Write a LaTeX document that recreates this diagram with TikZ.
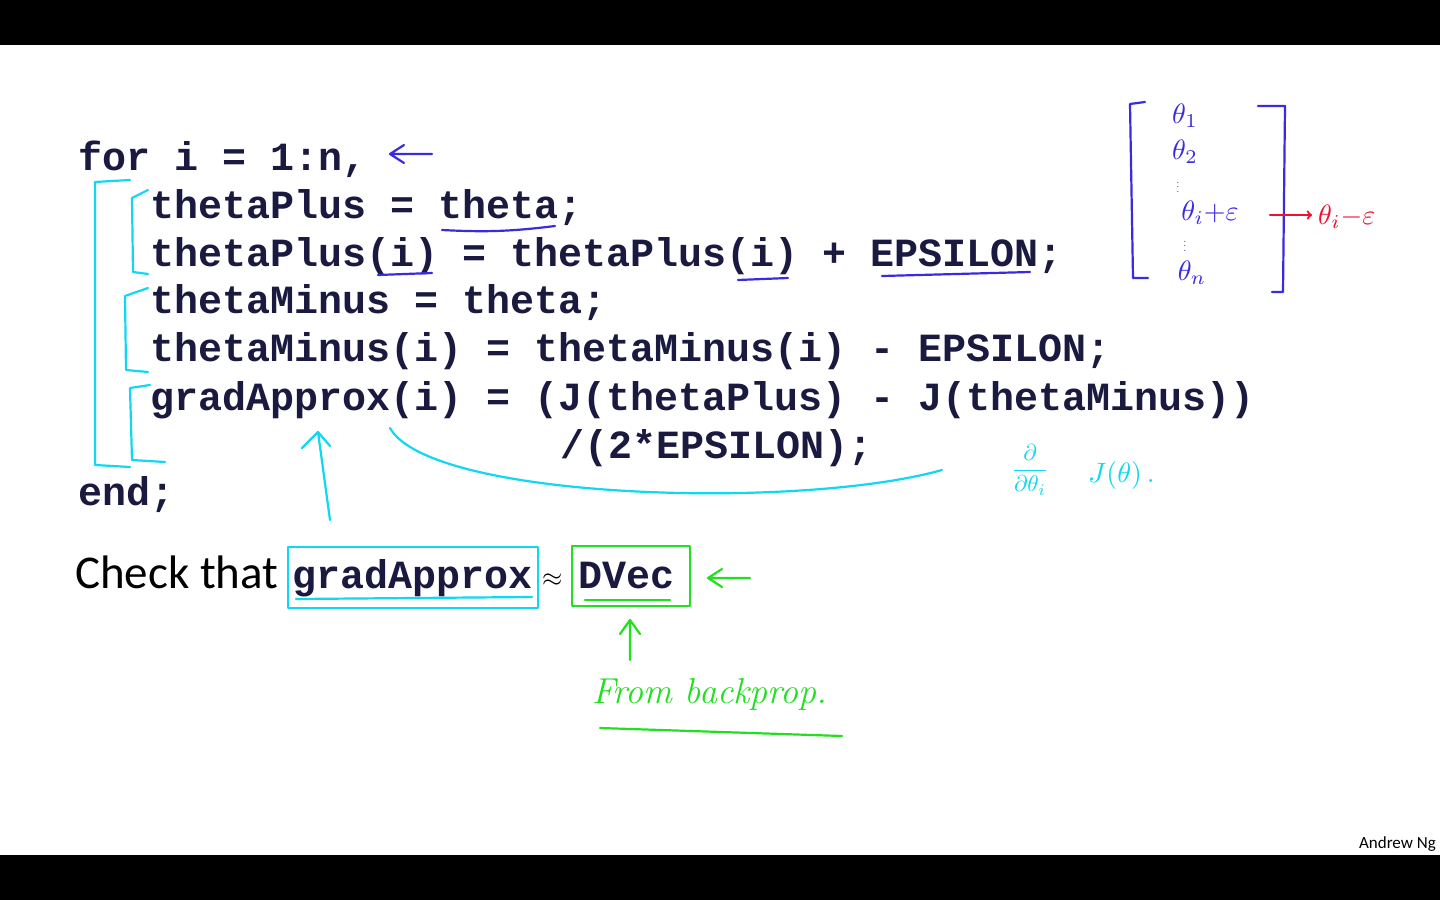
\documentclass[tikz,border=0pt]{standalone}
\usepackage{fontspec}
\setmonofont{Liberation Mono}
\setsansfont{Carlito}
\definecolor{codec}{HTML}{1A1A40}
\definecolor{cy}{HTML}{10D8F0}
\definecolor{pu}{HTML}{3A2AE0}
\definecolor{rd}{HTML}{F01030}
\definecolor{gr}{HTML}{20E020}
\begin{document}
\begin{tikzpicture}[x=1pt,y=-1pt,
  code/.style={anchor=base west,inner sep=0,text=codec,font=\fontsize{40}{48}\selectfont\ttfamily\bfseries},
  pen/.style={line width=2.2pt,line cap=round,line join=round},
  hand/.style={inner sep=0}]
\fill[white] (0,0) rectangle (1440,900);
\fill[black] (0,0) rectangle (1440,45);
\fill[black] (0,855) rectangle (1440,900);
% code
\node[code] (l1) at (78,170) {for i = 1:n,};
\node[code] (l2) at (150,218) {thetaPlus = theta;};
\node[code] (l3) at (150,266) {thetaPlus(i) = thetaPlus(i) + EPSILON;};
\node[code] (l4) at (150,313) {thetaMinus = theta;};
\node[code] (l5) at (150,361) {thetaMinus(i) = thetaMinus(i) - EPSILON;};
\node[code] (l6) at (150,410) {gradApprox(i) = (J(thetaPlus) - J(thetaMinus))};
\node[code] (l7) at (560,458) {/(2*EPSILON);};
\node[code] (l8) at (78,505) {end;};
\node[anchor=base west,inner sep=0,text=black,font=\fontsize{47}{50}\selectfont\sffamily] (chk) at (75,588) {Check that};
\node[code,anchor=base west] (ga) at (292,588) {gradApprox};
\node[anchor=base west,inner sep=0] (ap) at (542,586) {\scalebox{2.6}{$\approx$}};
\node[code] (dv) at (578,588) {DVec};
\node[anchor=base east,inner sep=0,font=\fontsize{17}{20}\selectfont\sffamily] (ang) at (1436,848) {Andrew Ng};
% purple arrow line 1
\draw[pen,pu] (432,154) -- (390,154) (404,145) -- (390,154) -- (404,163);
% underlines purple
\draw[pen,pu] (442,230) to[bend right=5] (555,226);
\draw[pen,pu] (378,275) -- (432,273);
\draw[pen,pu] (738,280) -- (788,278);
\draw[pen,pu] (882,276) -- (1030,272);
% cyan brackets
\draw[pen,cy] (130,180) -- (95,182) -- (95,465) -- (130,467);
\draw[pen,cy] (148,190) -- (132,198) -- (133,272) -- (148,274);
\draw[pen,cy] (148,288) -- (125,296) -- (126,370) -- (148,372);
\draw[pen,cy] (150,385) -- (130,388) -- (132,460) -- (165,462);
% cyan curve
\draw[pen,cy] (390,428) .. controls (430,500) and (800,510) .. (942,470);
\draw[pen,cy] (330,520) -- (318,432) (302,448) -- (318,432) -- (330,446);
\node[hand,text=cy] (dd) at (1030,470) {\scalebox{2.3}{$\displaystyle\frac{\partial}{\partial\theta_i}$}};
\node[hand,text=cy,anchor=west] (jj) at (1088,475) {\scalebox{2.8}{$J(\theta)\,.$}};
% boxes
\draw[pen,cy] (288,547) rectangle (538,608);
\draw[pen,cy] (296,599) -- (532,597);
\draw[pen,gr] (572,546) rectangle (690,606);
\draw[pen,gr] (585,600) -- (670,600);
\draw[pen,gr] (750,578) -- (708,578) (722,569) -- (708,578) -- (722,587);
\draw[pen,gr] (630,660) -- (630,620) (620,634) -- (630,620) -- (640,634);
\node[hand,text=gr,anchor=west,font=\fontsize{36}{40}\selectfont\itshape] (bp) at (592,694) {From backprop.};
\draw[pen,gr] (600,728) -- (842,736);
% matrix
\draw[pen,pu] (1145,102) -- (1130,104) -- (1133,278) -- (1148,278);
\draw[pen,pu] (1258,106) -- (1285,106) -- (1283,292) -- (1272,292);
\node[hand,text=pu] (t1) at (1185,116) {\scalebox{2.8}{$\theta_1$}};
\node[hand,text=pu] (t2) at (1185,152) {\scalebox{2.8}{$\theta_2$}};
\node[hand,text=pu] at (1178,184) {\scalebox{1.1}{$\vdots$}};
\node[hand,text=pu] (ti) at (1210,213) {\scalebox{2.8}{$\theta_i{+}\varepsilon$}};
\node[hand,text=pu] at (1185,243) {\scalebox{1.1}{$\vdots$}};
\node[hand,text=pu] (tn) at (1192,273) {\scalebox{2.8}{$\theta_n$}};
\draw[pen,rd,->] (1270,215) -- (1312,215);
\node[hand,text=rd,anchor=west] (tm) at (1318,217) {\scalebox{2.8}{$\theta_i{-}\varepsilon$}};
\end{tikzpicture}
\end{document}
